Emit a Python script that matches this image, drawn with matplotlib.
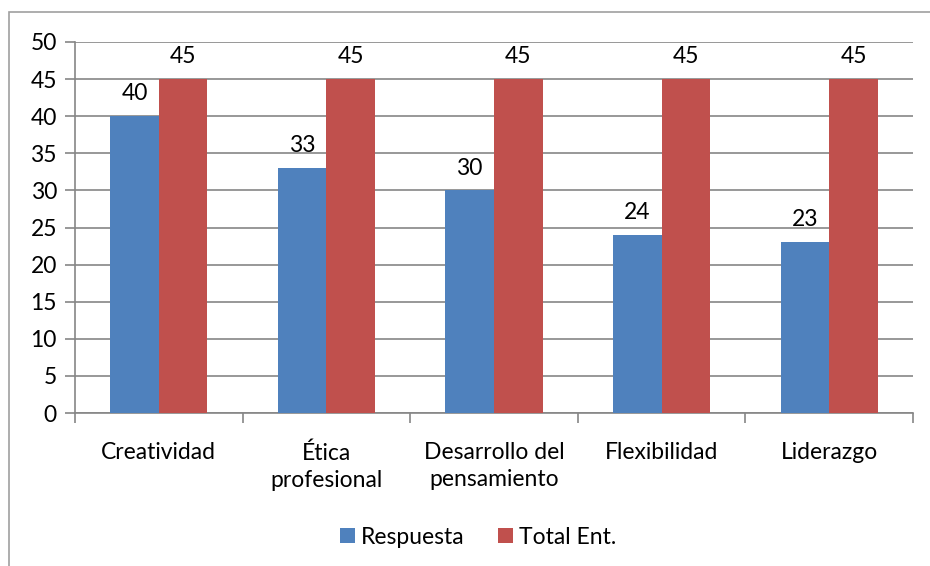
import numpy as np
import matplotlib.pyplot as plt
from matplotlib.patches import Rectangle

categorias = ["Creatividad", "Ética\nprofesional", "Desarrollo del\npensamiento", "Flexibilidad", "Liderazgo"]
respuesta = [40, 33, 30, 24, 23]
total_ent = [45, 45, 45, 45, 45]

plt.rcParams['font.family'] = ['Lato', 'DejaVu Sans']
fs = 16.5

fig = plt.figure(figsize=(9.3, 5.66), dpi=100)
# outer chart frame (cropped on right/bottom like the original)
fig.patches.append(Rectangle((9 / 930, -0.1), 1.2, 1 - 12 / 566 + 0.1, transform=fig.transFigure,
                             fill=False, edgecolor='#a0a0a0', linewidth=1.2))
ax = fig.add_axes([75 / 930, 1 - 413 / 566, (913 - 75) / 930, (413 - 42) / 566])

x = np.arange(len(categorias))
w = 0.29
b1 = ax.bar(x - w / 2, respuesta, w, color='#4F81BD', label='Respuesta', zorder=3)
b2 = ax.bar(x + w / 2, total_ent, w, color='#C0504D', label='Total Ent.', zorder=3)
for bars in (b1, b2):
    for r in bars:
        ax.text(r.get_x() + r.get_width() / 2, r.get_height() + 1.6, str(int(r.get_height())),
                ha='center', va='bottom', fontsize=fs, color='black')

ax.set_xlim(-0.5, len(categorias) - 0.5)
ax.set_ylim(0, 50)
ax.set_yticks(range(0, 51, 5))
ax.yaxis.grid(True, color='#868686', linewidth=1.2, zorder=0)
ax.set_xticks(np.arange(-0.5, len(categorias), 1))
ax.set_xticklabels([])
ax.set_xticks(x, minor=True)
ax.set_xticklabels(categorias, minor=True, fontsize=fs, linespacing=1.35)
ax.tick_params(axis='x', which='minor', length=0, pad=21)
ax.tick_params(axis='x', which='major', length=7, color='#868686', width=1.2)
ax.tick_params(axis='y', length=7, color='#868686', width=1.2, labelsize=fs, pad=6)
for s in ['top', 'right']:
    ax.spines[s].set_visible(False)
for s in ['left', 'bottom']:
    ax.spines[s].set_color('#868686')
    ax.spines[s].set_linewidth(1.2)

fig.legend(handles=[b1, b2], loc='center', bbox_to_anchor=(0.514, 1 - 537 / 566), ncol=2,
           frameon=False, fontsize=fs, handlelength=0.65, handleheight=0.65,
           handletextpad=0.25, columnspacing=1.5)

plt.savefig('out.png', dpi=100)
